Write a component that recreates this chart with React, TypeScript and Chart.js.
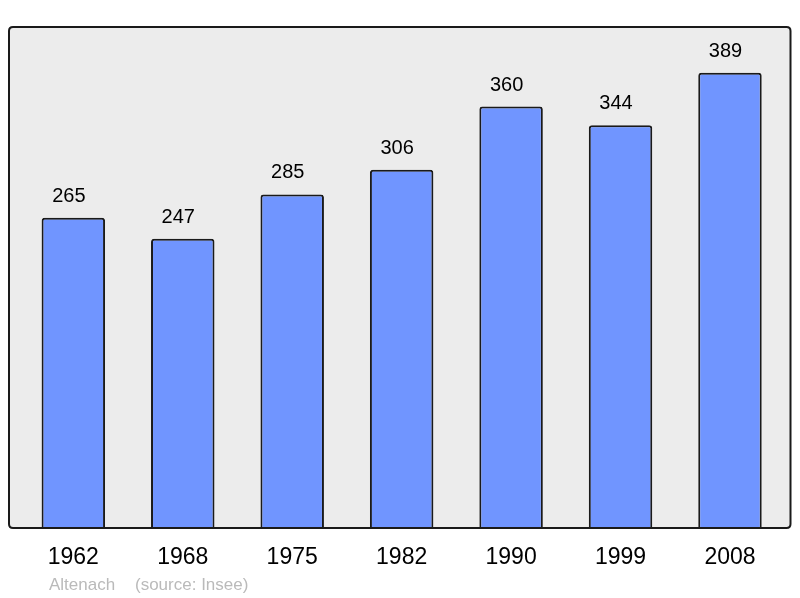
import React, { useEffect, useRef } from "react";
import { Chart, registerables } from "chart.js";

Chart.register(...registerables);

const years = ["1962", "1968", "1975", "1982", "1990", "1999", "2008"];
const population = [265, 247, 285, 306, 360, 344, 389];
const townName = "Altenach";
const sourceText = "(source: Insee)";

const FONT = "'Liberation Sans', Arial, sans-serif";

function boxPath(ctx: any, x0: number, y0: number, x1: number, y1: number, r: number) {
  ctx.beginPath();
  ctx.moveTo(x0 + r, y0);
  ctx.lineTo(x1 - r, y0);
  ctx.quadraticCurveTo(x1, y0, x1, y0 + r);
  ctx.lineTo(x1, y1 - r);
  ctx.quadraticCurveTo(x1, y1, x1 - r, y1);
  ctx.lineTo(x0 + r, y1);
  ctx.quadraticCurveTo(x0, y1, x0, y1 - r);
  ctx.lineTo(x0, y0 + r);
  ctx.quadraticCurveTo(x0, y0, x0 + r, y0);
  ctx.closePath();
}

const decorPlugin = {
  id: "decor",
  beforeDraw(chart: any) {
    const ctx = chart.ctx;
    ctx.save();
    boxPath(ctx, 9, 27, 790.5, chart.chartArea.bottom, 4);
    ctx.fillStyle = "#ececec";
    ctx.fill();
    ctx.restore();
  },
  afterDatasetsDraw(chart: any) {
    const ctx = chart.ctx;
    ctx.save();
    boxPath(ctx, 9, 27, 790.5, chart.chartArea.bottom, 4);
    ctx.strokeStyle = "#1a1a1a";
    ctx.lineWidth = 2;
    ctx.stroke();

    const meta = chart.getDatasetMeta(0);
    ctx.fillStyle = "#000";
    ctx.font = `20px ${FONT}`;
    ctx.textAlign = "center";
    ctx.textBaseline = "middle";
    meta.data.forEach((bar: any, i: number) => {
      ctx.fillText(String(population[i]), bar.x - 4.5, bar.y - 21.5);
    });

    ctx.fillStyle = "#bababa";
    ctx.font = `17px ${FONT}`;
    ctx.textAlign = "left";
    ctx.textBaseline = "alphabetic";
    ctx.fillText(townName, 49, 589.5);
    ctx.fillText(sourceText, 135, 589.5);
    ctx.restore();
  },
};

export default function App() {
  const ref = useRef<HTMLCanvasElement | null>(null);

  useEffect(() => {
    if (!ref.current) return;
    const chart = new Chart(ref.current, {
      type: "bar",
      data: {
        labels: years,
        datasets: [
          {
            data: population,
            backgroundColor: "#7095ff",
            borderColor: "#1a1a1a",
            borderWidth: 2,
            borderRadius: 3,
            borderSkipped: "start",
            categoryPercentage: 1,
            barPercentage: 0.58,
          },
        ],
      },
      options: {
        responsive: false,
        animation: false,
        layout: { padding: { left: 18.6, right: 15.3, top: 27, bottom: 0 } },
        plugins: {
          legend: { display: false },
          tooltip: { enabled: false },
          title: { display: false },
        },
        scales: {
          x: {
            grid: { display: false, drawTicks: false },
            border: { display: false },
            ticks: {
              color: "#000",
              font: { family: FONT, size: 23 },
              padding: 16,
              maxRotation: 0,
            },
            afterFit(scale: any) {
              scale.height = 70;
            },
          },
          y: {
            display: false,
            min: 0,
            max: 428,
          },
        },
      },
      plugins: [decorPlugin],
    });
    return () => chart.destroy();
  }, []);

  return (
    <div style={{ position: "absolute", left: 0, top: 0, width: 800, height: 598, background: "#fff" }}>
      <canvas ref={ref} width={800} height={598} />
    </div>
  );
}
